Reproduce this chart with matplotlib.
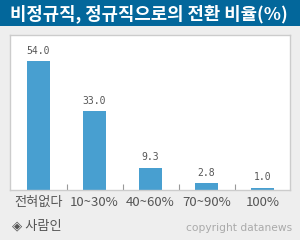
import matplotlib
matplotlib.use("Agg")
import matplotlib.pyplot as plt
from matplotlib.patches import Rectangle

plt.rcParams['font.family'] = ['Noto Sans CJK KR', 'DejaVu Sans']

categories = ["전혀없다", "10~30%", "40~60%", "70~90%", "100%"]
values = [54.0, 33.0, 9.3, 2.8, 1.0]
title = "비정규직, 정규직으로의 전환 비율(%)"
source = "◈ 사람인"
credit = "copyright datanews"

W, H = 300, 240
fig = plt.figure(figsize=(W / 100, H / 100), dpi=100)
fig.patch.set_facecolor("#eeeeee")

# title banner
fig.patches.append(Rectangle((0, 1 - 26 / H), 1, 26 / H, transform=fig.transFigure,
                             facecolor="#03679b", edgecolor="none", zorder=0))
fig.text(10 / W, 1 - 13.5 / H, title, color="white", fontsize=12.8, fontweight="bold",
         ha="left", va="center")

ax = fig.add_axes([10 / W, 1 - 190 / H, 280 / W, 155 / H])
ax.set_facecolor("white")
x = list(range(len(categories)))
ax.bar(x, values, width=0.41, color="#489fd0", zorder=2)
for xi, v in zip(x, values):
    ax.annotate(f"{v:.1f}", (xi, v), xytext=(0, 4), textcoords="offset points",
                ha="center", va="bottom", fontsize=7, color="#555555",
                family="DejaVu Sans Mono")
ax.set_xlim(-0.51, 4.49)
ax.set_ylim(0, 65)
ax.set_yticks([])
ax.set_xticks([0.5, 1.5, 2.5, 3.5])
ax.set_xticklabels([])
ax.tick_params(axis="x", direction="in", length=4, color="#999999", width=0.8)
for s in ax.spines.values():
    s.set_color("#cccccc")
    s.set_linewidth(1)
for xi, c in zip(x, categories):
    ax.text(xi, -2.5, c, ha="center", va="top", fontsize=9.5, color="#555555")

fig.text(12 / W, 1 - 226 / H, source, fontsize=9.5, color="#555555", ha="left", va="center")
fig.text(292 / W, 1 - 228 / H, credit, fontsize=7.7, color="#aaaaaa", ha="right",
         va="center", family="DejaVu Sans")

fig.savefig("out.png", dpi=100, facecolor=fig.get_facecolor())
